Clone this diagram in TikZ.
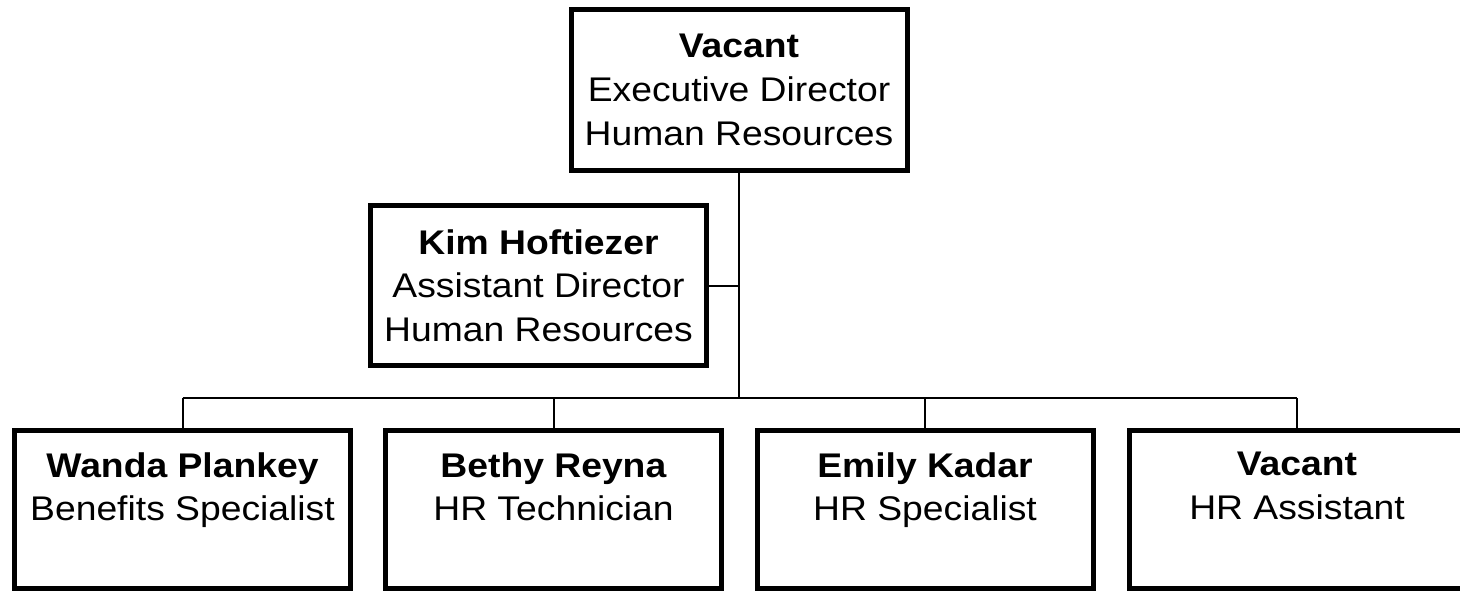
\documentclass[tikz,border=0pt]{standalone}
\usepackage{fontspec}
\setmainfont{Liberation Sans}[FakeStretch=1.09]
\usetikzlibrary{positioning}
\tikzset{
  unit/.style={draw, line width=2.5pt, fill=white, inner sep=0pt,
    minimum width=168pt, minimum height=80.5pt},
  staff/.style={unit, minimum height=78.75pt},
  name text/.style={inner sep=0pt, align=center,
    font=\fontsize{17.1pt}{21.9pt}\selectfont},
  link/.style={line width=1pt}
}
\begin{document}
\begin{tikzpicture}[x=0.5pt, y=-0.5pt]
    \useasboundingbox (0,0) rectangle (1460,591);

% director and assistant
    \node[unit] (exec) at (739,90) {};
    \node[name text, below=13.5pt of exec.north] (exectext) {\textbf{Vacant}\\Executive Director\\Human Resources};
    \node[unit, minimum height=80pt] (kim) at (538.5,285.5) {};
    \node[name text, below=13pt of kim.north] (kimtext) {\textbf{Kim Hoftiezer}\\Assistant Director\\Human Resources};

% staff
    \node[staff] (wanda) at (182.5,509.25) {};
    \node[staff] (bethy) at (553.5,509.25) {};
    \node[staff] (emily) at (925,509.25) {};
    \node[staff] (vacanthr) at (1297,509.25) {};

    \node[name text, below=12pt of wanda.north] (wandatext) {\textbf{Wanda Plankey}\\Benefits Specialist};
    \node[name text, below=12pt of bethy.north] (bethytext) {\textbf{Bethy Reyna}\\HR Technician};
    \node[name text, below=12pt of emily.north] (emilytext) {\textbf{Emily Kadar}\\HR Specialist};
    \node[name text, below=12pt of vacanthr.north] (vacanthrtext) {\textbf{Vacant}\\HR Assistant};

% connectors
    \coordinate (bus) at (739,398);
    \draw[link] (exec.south) -- (bus);
    \draw[link] (kim.east) -- (kim.east -| bus);
    \draw[link] (wanda.north |- bus) -- (vacanthr.north |- bus);
    \draw[link] (wanda.north) -- (wanda.north |- bus);
    \draw[link] (bethy.north) -- (bethy.north |- bus);
    \draw[link] (emily.north) -- (emily.north |- bus);
    \draw[link] (vacanthr.north) -- (vacanthr.north |- bus);

\end{tikzpicture}
\end{document}
